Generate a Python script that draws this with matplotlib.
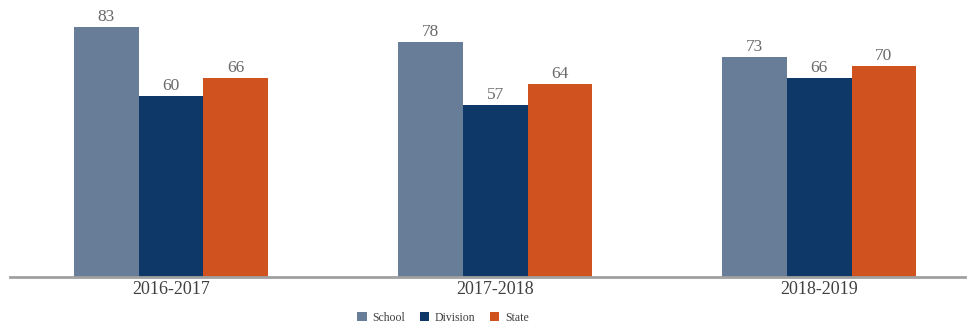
import matplotlib
matplotlib.use("Agg")
import matplotlib.pyplot as plt
import numpy as np

annees = ["2016-2017", "2017-2018", "2018-2019"]
ecole = [83, 78, 73]
division = [60, 57, 66]
etat = [66, 64, 70]

series = [
    ("School", ecole, "#687d98"),
    ("Division", division, "#0d3868"),
    ("State", etat, "#d0521f"),
]

plt.rcParams["font.family"] = ["Liberation Serif", "DejaVu Serif"]

fig = plt.figure(figsize=(9.73, 3.3), dpi=100)
ax = fig.add_axes([10 / 973, 53 / 330, 955 / 973, 277 / 330])

x = np.arange(len(annees))
larg = 0.2
for i, (nom, vals, coul) in enumerate(series):
    pos = x + (i - 1) * larg
    ax.bar(pos, vals, width=larg, color=coul, label=nom)
    for p, v in zip(pos, vals):
        ax.annotate(f"{v}", (p, v), xytext=(0, 1.5), textcoords="offset points",
                    ha="center", va="bottom", fontsize=12.5, color="#6a6a6a")

ax.set_xlim(-0.497, 2.45)
ax.set_ylim(0, 92)
for s in ["top", "right", "left"]:
    ax.spines[s].set_visible(False)
ax.spines["bottom"].set_color("#a0a0a0")
ax.spines["bottom"].set_linewidth(2)
ax.set_yticks([])
ax.set_xticks(x)
ax.set_xticklabels(annees, fontsize=13, color="#404040")
ax.tick_params(axis="x", length=0, pad=3)

fig.legend(loc="center", bbox_to_anchor=(443 / 973, 12 / 330), ncol=3,
           frameon=False, fontsize=8.5, handlelength=0.8, handleheight=0.8,
           handletextpad=0.5, columnspacing=1.2, labelcolor="#404040")

fig.savefig("out.png", dpi=100)
